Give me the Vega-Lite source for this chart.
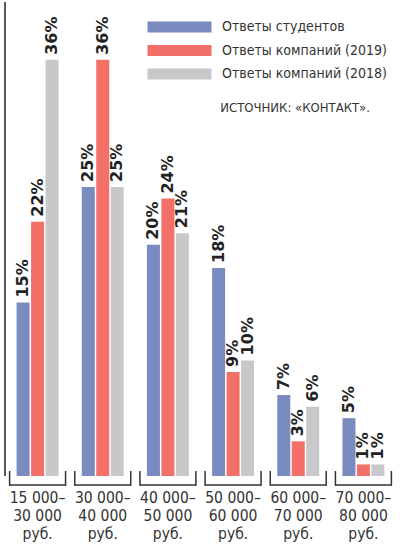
{
  "$schema": "https://vega.github.io/schema/vega-lite/v6.json",
  "width": 391,
  "height": 474,
  "autosize": "none",
  "padding": {"left": 5, "top": 2, "right": 20, "bottom": 74},
  "background": "white",
  "datasets": {
    "shares": [
      {"group": "15 000–|30 000|руб.", "series": "Ответы студентов", "value": 0.15},
      {"group": "15 000–|30 000|руб.", "series": "Ответы компаний (2019)", "value": 0.22},
      {"group": "15 000–|30 000|руб.", "series": "Ответы компаний (2018)", "value": 0.36},
      {"group": "30 000–|40 000|руб.", "series": "Ответы студентов", "value": 0.25},
      {"group": "30 000–|40 000|руб.", "series": "Ответы компаний (2019)", "value": 0.36},
      {"group": "30 000–|40 000|руб.", "series": "Ответы компаний (2018)", "value": 0.25},
      {"group": "40 000–|50 000|руб.", "series": "Ответы студентов", "value": 0.20},
      {"group": "40 000–|50 000|руб.", "series": "Ответы компаний (2019)", "value": 0.24},
      {"group": "40 000–|50 000|руб.", "series": "Ответы компаний (2018)", "value": 0.21},
      {"group": "50 000–|60 000|руб.", "series": "Ответы студентов", "value": 0.18},
      {"group": "50 000–|60 000|руб.", "series": "Ответы компаний (2019)", "value": 0.09},
      {"group": "50 000–|60 000|руб.", "series": "Ответы компаний (2018)", "value": 0.10},
      {"group": "60 000–|70 000|руб.", "series": "Ответы студентов", "value": 0.07},
      {"group": "60 000–|70 000|руб.", "series": "Ответы компаний (2019)", "value": 0.03},
      {"group": "60 000–|70 000|руб.", "series": "Ответы компаний (2018)", "value": 0.06},
      {"group": "70 000–|80 000|руб.", "series": "Ответы студентов", "value": 0.05},
      {"group": "70 000–|80 000|руб.", "series": "Ответы компаний (2019)", "value": 0.01},
      {"group": "70 000–|80 000|руб.", "series": "Ответы компаний (2018)", "value": 0.01}
    ],
    "groups": [
      {"group": "15 000–|30 000|руб."},
      {"group": "30 000–|40 000|руб."},
      {"group": "40 000–|50 000|руб."},
      {"group": "50 000–|60 000|руб."},
      {"group": "60 000–|70 000|руб."},
      {"group": "70 000–|80 000|руб."}
    ]
  },
  "title": {
    "text": "ИСТОЧНИК: «КОНТАКТ».",
    "orient": "top",
    "anchor": "start",
    "dx": 216,
    "dy": 118,
    "font": "DejaVu Sans Condensed",
    "fontSize": 13,
    "fontWeight": "normal",
    "color": "#333"
  },
  "encoding": {
    "x": {
      "field": "group",
      "type": "nominal",
      "sort": null,
      "scale": {
        "domain": ["15 000–|30 000|руб.", "30 000–|40 000|руб.", "40 000–|50 000|руб.", "50 000–|60 000|руб.", "60 000–|70 000|руб.", "70 000–|80 000|руб."],
        "paddingInner": 0.356,
        "paddingOuter": 0.178
      },
      "axis": {
        "title": null,
        "domain": false,
        "ticks": false,
        "labelAngle": 0,
        "labelExpr": "split(datum.value, '|')",
        "labelFont": "DejaVu Sans Condensed",
        "labelFontSize": 15.5,
        "labelColor": "#333",
        "labelLineHeight": 18,
        "labelPadding": 14,
        "labelBaseline": "top"
      }
    }
  },
  "layer": [
    {
      "data": {"name": "shares"},
      "mark": {"type": "bar"},
      "encoding": {
        "xOffset": {
          "field": "series",
          "type": "nominal",
          "scale": {"domain": ["Ответы студентов", "Ответы компаний (2019)", "Ответы компаний (2018)"], "paddingInner": 0.1, "paddingOuter": 0}
        },
        "y": {"field": "value", "type": "quantitative", "scale": {"domain": [0, 0.41], "nice": false}, "axis": null},
        "color": {
          "field": "series",
          "type": "nominal",
          "scale": {
            "domain": ["Ответы студентов", "Ответы компаний (2019)", "Ответы компаний (2018)"],
            "range": ["#7a8bc0", "#f27068", "#c8c8ca"]
          },
          "legend": {
            "orient": "none",
            "legendX": 141,
            "legendY": 18,
            "title": null,
            "padding": 0,
            "symbolType": "M-1,-1H10.636V1H-1Z",
            "symbolSize": 121,
            "symbolStrokeWidth": 0,
            "symbolOpacity": 1,
            "labelFont": "DejaVu Sans Condensed",
            "labelFontSize": 14,
            "labelColor": "#333",
            "labelOffset": 62,
            "labelLimit": 300,
            "rowPadding": 9.5
          }
        }
      }
    },
    {
      "data": {"name": "shares"},
      "mark": {"type": "text", "angle": 270, "align": "left", "baseline": "middle", "dx": 5, "font": "DejaVu Sans", "fontWeight": "bold", "fontSize": 16, "color": "#222"},
      "encoding": {
        "xOffset": {"field": "series", "type": "nominal", "scale": {"domain": ["Ответы студентов", "Ответы компаний (2019)", "Ответы компаний (2018)"], "paddingInner": 0.1, "paddingOuter": 0}},
        "y": {"field": "value", "type": "quantitative"},
        "text": {"field": "value", "type": "quantitative", "format": ".0%"},
        "detail": {"field": "series"}
      }
    },
    {
      "data": {"name": "groups"},
      "mark": {"type": "tick", "size": 56, "thickness": 1.5, "color": "#333", "yOffset": 9, "opacity": 1},
      "encoding": {"y": {"datum": 0, "type": "quantitative"}}
    },
    {
      "data": {"name": "groups"},
      "mark": {"type": "rule", "color": "#333", "strokeWidth": 1.5, "xOffset": -7, "yOffset": 9.75, "y2Offset": -5},
      "encoding": {"x": {"field": "group", "type": "nominal", "bandPosition": 0}, "y": {"datum": 0, "type": "quantitative"}, "y2": {"datum": 0}}
    },
    {
      "data": {"name": "groups"},
      "mark": {"type": "rule", "color": "#333", "strokeWidth": 1.5, "xOffset": 7, "yOffset": 9.75, "y2Offset": -5},
      "encoding": {"x": {"field": "group", "type": "nominal", "bandPosition": 1}, "y": {"datum": 0, "type": "quantitative"}, "y2": {"datum": 0}}
    },
    {
      "data": {"values": [{"top": 0.41}]},
      "mark": {"type": "rule", "color": "#222", "strokeWidth": 1.5, "xOffset": 5, "x2Offset": -4},
      "encoding": {"y": {"field": "top", "type": "quantitative"}}
    }
  ],
  "config": {"view": {"stroke": null}}
}
